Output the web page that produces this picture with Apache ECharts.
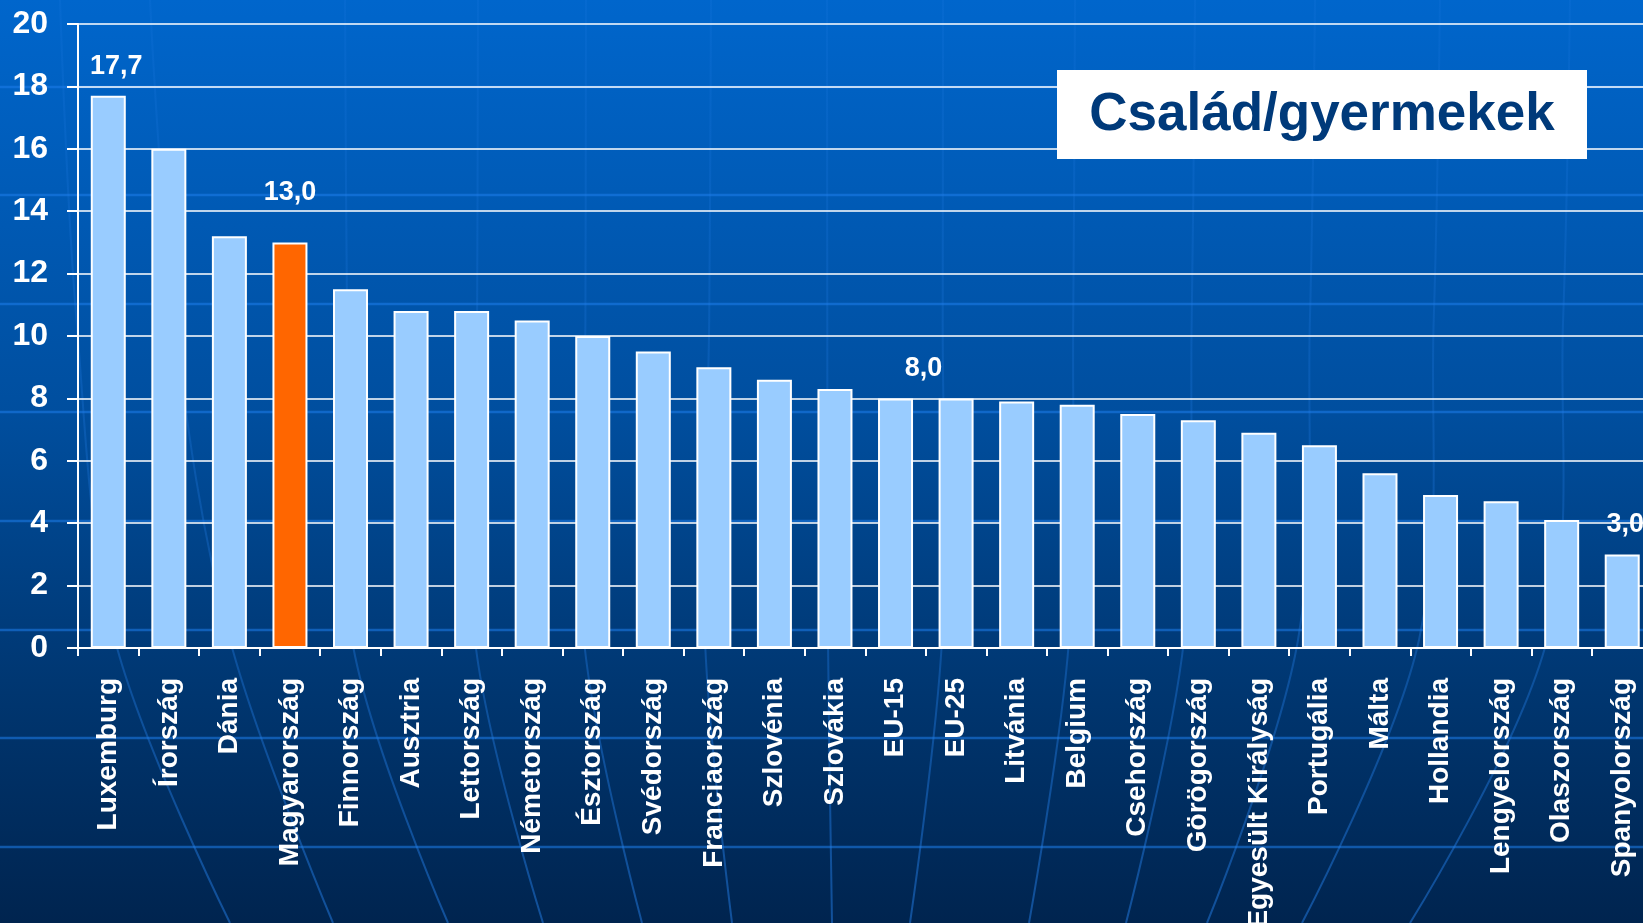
<!DOCTYPE html>
<html>
<head>
<meta charset="utf-8">
<script src="https://cdn.jsdelivr.net/npm/echarts@6/dist/echarts.min.js"></script>
<style>
html,body{margin:0;padding:0;background:#003a7a;overflow:hidden;}
#chart{width:1643px;height:923px;}
</style>
</head>
<body>
<div id="chart"></div>
<script>
// ---- data ----
const categories = ['Luxemburg','Írország','Dánia','Magyarország','Finnország','Ausztria','Lettország','Németország','Észtország','Svédország','Franciaország','Szlovénia','Szlovákia','EU-15','EU-25','Litvánia','Belgium','Csehország','Görögország','Egyesült Királyság','Portugália','Málta','Hollandia','Lengyelország','Olaszország','Spanyolország'];
const values = [17.7,16.0,13.2,13.0,11.5,10.8,10.8,10.5,10.0,9.5,9.0,8.6,8.3,8.0,8.0,7.9,7.8,7.5,7.3,6.9,6.5,5.6,4.9,4.7,4.1,3.0];
const highlighted = ['Magyarország'];
const labelled = ['Luxemburg','Magyarország','EU-15','Spanyolország'];
const yTicks = [0,2,4,6,8,10,12,14,16,18,20];
const titleText = 'Család/gyermekek';

// ---- styles ----
const FONT = '"Liberation Sans", Arial, sans-serif';
const barColor = '#99CCFF';
const hiColor = '#FF6600';
const labelOffsets = {'Luxemburg':[8,-11],'Magyarország':[0,-31],'EU-15':[28,-11],'Spanyolország':[3,-11]};
const fmt = v => v.toFixed(1).replace('.', ',');

const seriesData = values.map((v, i) => {
  const c = categories[i];
  const item = { value: v, itemStyle: { color: highlighted.includes(c) ? hiColor : barColor } };
  if (labelled.includes(c)) {
    item.label = { show: true, offset: labelOffsets[c] };
  }
  return item;
});

// decorative background pieces (template artwork)
const W = 1643, H = 923;
const deco = [];
deco.push({ type:'rect', z:-100, silent:true, shape:{x:0,y:0,width:W,height:H},
  style:{ fill: new echarts.graphic.LinearGradient(0,0,0,1,[
    {offset:0,color:'#0066CC'},{offset:0.45,color:'#004E9E'},{offset:0.75,color:'#003670'},{offset:1,color:'#00244F'}]) } });
[87,195,304,412,521,630,738,847].forEach(y => {
  deco.push({ type:'line', z:-90, silent:true, shape:{x1:0,y1:y,x2:W,y2:y},
    style:{ stroke:'rgba(30,125,235,0.55)', lineWidth:2.5 } });
});
[[60,115,230],[150,230,333],[345,352,448],[478,475,543],[586,584,642],[711,705,732],[827,828,832],[943,942,910],[1075,1069,1029],[1195,1184,1126],[1315,1298,1207],[1440,1419,1302],[1570,1547,1410]].forEach(m => {
  const [xt, xm, xb] = m;
  deco.push({ type:'polyline', z:-90, silent:true,
    shape:{ points:[[xt,0],[xt+(xm-xt)*0.3,320],[xm,640],[xb,H]], smooth:0.35 },
    style:{ stroke: new echarts.graphic.LinearGradient(0,0,0,1,[
      {offset:0,color:'rgba(35,125,230,0.15)'},{offset:0.6,color:'rgba(35,125,230,0.3)'},{offset:1,color:'rgba(35,125,230,0.5)'}]),
      lineWidth:2, fill:null } });
});
// title box
deco.push({ type:'rect', z:100, shape:{x:1057,y:70,width:530,height:89}, style:{fill:'#FFFFFF'} });
deco.push({ type:'text', z:101, x:1322, y:115,
  style:{ text:titleText, fill:'#003A7A', font:'bold 53px ' + FONT, align:'center', verticalAlign:'middle' } });

const chart = echarts.init(document.getElementById('chart'), null, { renderer:'canvas' });
chart.setOption({
  animation:false,
  backgroundColor:'transparent',
  graphic:{ elements: deco },
  grid:{ left:78, top:24, width:1574.5, height:624, containLabel:false, outerBoundsMode:'none' },
  xAxis:{
    type:'category', data:categories,
    axisLine:{ show:true, lineStyle:{ color:'#FFFFFF', width:2 } },
    axisTick:{ show:true, alignWithLabel:false, length:8, lineStyle:{ color:'#FFFFFF', width:2 } },
    axisLabel:{ interval:0, rotate:90, margin:30, color:'#FFFFFF', fontSize:28, fontWeight:'bold', fontFamily:FONT },
    splitLine:{ show:false }
  },
  yAxis:{
    type:'value', min:yTicks[0], max:yTicks[yTicks.length-1], interval:yTicks[1]-yTicks[0],
    axisLine:{ show:true, lineStyle:{ color:'#FFFFFF', width:2 } },
    axisTick:{ show:true, inside:false, length:11, lineStyle:{ color:'#FFFFFF', width:2 } },
    axisLabel:{ margin:30, color:'#FFFFFF', fontSize:32, fontWeight:'bold', fontFamily:FONT },
    splitLine:{ show:true, lineStyle:{ color:'#FFFFFF', width:1.5 } }
  },
  series:[{
    type:'bar', data:seriesData, barWidth:35,
    itemStyle:{ borderColor:'#FFFFFF', borderWidth:2 },
    label:{ show:false, position:'top', distance:5, color:'#FFFFFF', fontSize:27, fontWeight:'bold', fontFamily:FONT,
      formatter: p => fmt(p.value) }
  }]
});
</script>
</body>
</html>
